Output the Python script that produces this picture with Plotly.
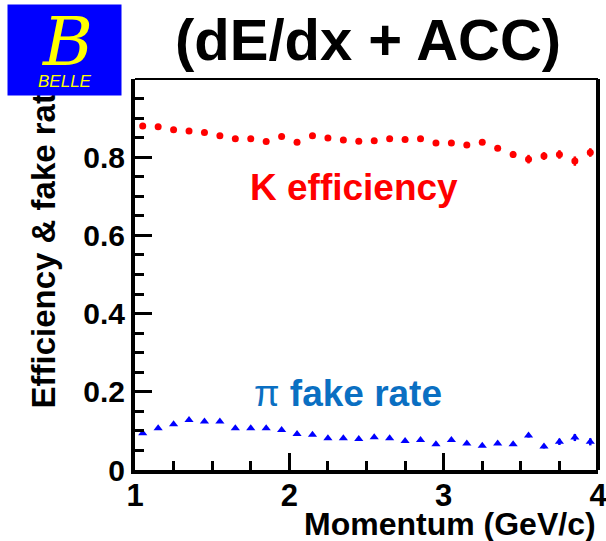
import plotly.graph_objects as go

# ---- data ----
momentum = [1.05, 1.15, 1.25, 1.35, 1.45, 1.55, 1.65, 1.75, 1.85, 1.95,
            2.05, 2.15, 2.25, 2.35, 2.45, 2.55, 2.65, 2.75, 2.85, 2.95,
            3.05, 3.15, 3.25, 3.35, 3.45, 3.55, 3.65, 3.75, 3.85, 3.95]
k_eff = [0.880, 0.878, 0.870, 0.867, 0.863, 0.855, 0.847, 0.847, 0.840, 0.853,
         0.838, 0.855, 0.849, 0.844, 0.841, 0.842, 0.847, 0.845, 0.847, 0.836,
         0.836, 0.831, 0.838, 0.823, 0.807, 0.795, 0.803, 0.807, 0.790, 0.812]
k_err = [0.003, 0.003, 0.003, 0.003, 0.003, 0.003, 0.003, 0.003, 0.003, 0.003,
         0.003, 0.003, 0.003, 0.003, 0.003, 0.003, 0.003, 0.003, 0.004, 0.004,
         0.004, 0.004, 0.005, 0.006, 0.009, 0.011, 0.010, 0.011, 0.012, 0.011]
pi_fake = [0.094, 0.107, 0.117, 0.128, 0.124, 0.124, 0.107, 0.107, 0.107, 0.102,
           0.092, 0.090, 0.081, 0.081, 0.079, 0.084, 0.081, 0.074, 0.077, 0.066,
           0.077, 0.068, 0.062, 0.068, 0.066, 0.088, 0.060, 0.072, 0.083, 0.072]
pi_err = [0.002, 0.002, 0.002, 0.002, 0.002, 0.002, 0.002, 0.002, 0.002, 0.002,
          0.002, 0.002, 0.002, 0.002, 0.002, 0.002, 0.002, 0.002, 0.003, 0.003,
          0.003, 0.003, 0.003, 0.004, 0.004, 0.005, 0.005, 0.008, 0.009, 0.009]
x_ticks = [1, 2, 3, 4]
y_ticks = [0, 0.2, 0.4, 0.6, 0.8]
y_ticktext = ["0", "0.2", "0.4", "0.6", "0.8"]

FONT = "Liberation Sans, Arial, Helvetica, sans-serif"

fig = go.Figure()
fig.add_trace(go.Scatter(
    x=momentum, y=k_eff, mode="markers",
    marker=dict(symbol="circle", size=7, color="#ff0000"),
    error_y=dict(type="data", array=k_err, color="#ff0000", thickness=2.5, width=0),
    showlegend=False, cliponaxis=False))
fig.add_trace(go.Scatter(
    x=momentum, y=pi_fake, mode="markers",
    marker=dict(symbol="triangle-up", size=8, color="#0000ff"),
    error_y=dict(type="data", array=pi_err, color="#0000ff", thickness=2.5, width=0),
    showlegend=False, cliponaxis=False))

fig.update_layout(
    width=606, height=541,
    margin=dict(l=135, r=8, t=79, b=71, autoexpand=False),
    paper_bgcolor="white", plot_bgcolor="white",
    font=dict(family=FONT, color="black"),
    showlegend=False,
)
fig.update_xaxes(
    range=[1, 4], tickvals=x_ticks, ticktext=[str(v) for v in x_ticks],
    ticks="inside", ticklen=17, tickwidth=3, tickcolor="black",
    showline=True, linewidth=4, linecolor="black", mirror=False,
    showgrid=False, zeroline=False, ticklabeloverflow="allow",
    automargin=False, ticklabelstandoff=-5,
    tickfont=dict(family=FONT, size=31, color="black", weight="bold"),
    minor=dict(dtick=0.25, ticks="inside", ticklen=9, tickwidth=3,
               tickcolor="black", showgrid=False),
)
fig.update_yaxes(
    range=[0, 1], tickvals=y_ticks, ticktext=y_ticktext,
    ticks="inside", ticklen=17, tickwidth=3, tickcolor="black",
    showline=True, linewidth=4, linecolor="black", mirror=False,
    showgrid=False, zeroline=False, automargin=False,
    tickfont=dict(family=FONT, size=30, color="black", weight="bold"),
    minor=dict(dtick=0.05, ticks="inside", ticklen=9, tickwidth=3,
               tickcolor="black", showgrid=False),
)

# frame: thick right edge, thin top edge
fig.add_shape(type="line", xref="paper", yref="paper", x0=1, x1=1, y0=0, y1=1,
              line=dict(color="black", width=4))
fig.add_shape(type="line", xref="paper", yref="paper", x0=0, x1=1, y0=1, y1=1,
              line=dict(color="black", width=2))

annotations = [
    # y-axis title (partly hidden behind the logo, as in the reference)
    dict(text="<b>Efficiency & fake rate</b>", textangle=-90,
         xref="paper", yref="paper", x=-0.198, y=0.153,
         xanchor="center", yanchor="bottom", showarrow=False,
         font=dict(family=FONT, size=33, color="black")),
    # x-axis title
    dict(text="<b>Momentum (GeV/c)</b>", xref="paper", yref="paper",
         x=1.0, y=-0.138, xanchor="right", yanchor="middle", showarrow=False,
         font=dict(family=FONT, size=32, color="black")),
    # title
    dict(text="<b>(dE/dx + ACC)</b>", xref="paper", yref="paper",
         x=0.503, y=1.101, xanchor="center", yanchor="middle", showarrow=False,
         font=dict(family=FONT, size=58, color="black")),
    # labels
    dict(text="<b>K efficiency</b>", xref="paper", yref="paper",
         x=0.474, y=0.723, xanchor="center", yanchor="middle", showarrow=False,
         font=dict(family=FONT, size=37, color="#ff0000")),
    dict(text="π <b>fake rate</b>", xref="paper", yref="paper",
         x=0.459, y=0.195, xanchor="center", yanchor="middle", showarrow=False,
         font=dict(family=FONT, size=37, color="#0a6fc2")),
    # Belle logo box (drawn on top of the y title)
    dict(text=" ", xref="paper", yref="paper", x=-0.152, y=1.074,
         xanchor="center", yanchor="middle", showarrow=False,
         width=113, height=90, borderpad=0, bgcolor="#0000ff",
         font=dict(size=10, color="#0000ff")),
    dict(text="<i>B</i>", xref="paper", yref="paper", x=-0.146, y=1.095,
         xanchor="center", yanchor="middle", showarrow=False,
         font=dict(family="DejaVu Serif, Liberation Serif, serif", size=68, color="#ffff00")),
    dict(text="<i>BELLE</i>", xref="paper", yref="paper", x=-0.152, y=0.993,
         xanchor="center", yanchor="middle", showarrow=False,
         font=dict(family=FONT, size=17, color="#ffff00")),
]
fig.update_layout(annotations=annotations)

fig.write_html("out.html")
